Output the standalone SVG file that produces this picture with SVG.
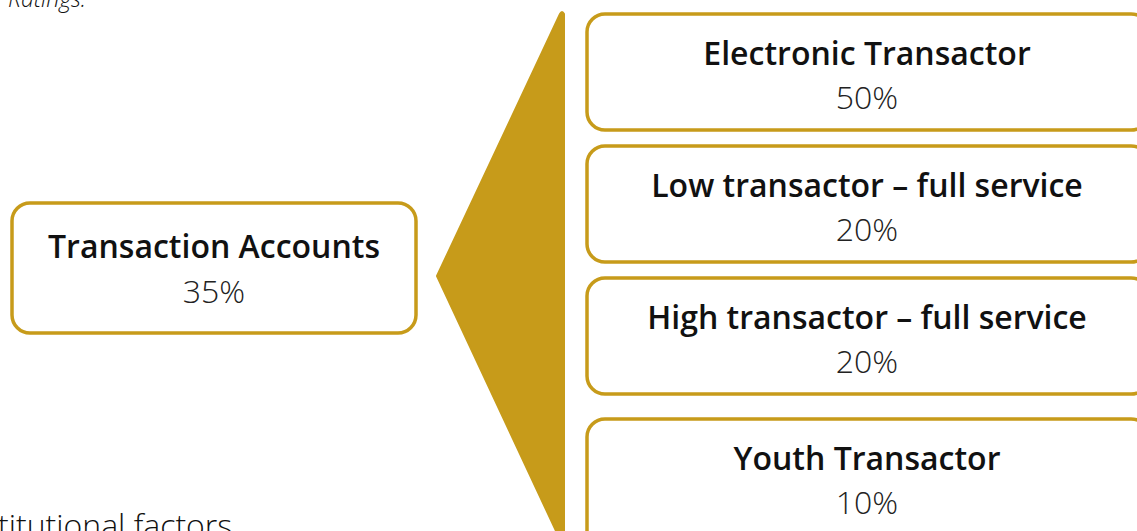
<svg xmlns="http://www.w3.org/2000/svg" width="1137" height="531" viewBox="0 0 1137 531">
  <style>
    .box { fill: #ffffff; stroke: #C79B1A; stroke-width: 3.5; }
    .title { font-family: "Open Sans", "Liberation Sans", sans-serif; font-weight: 600; font-size: 32px; fill: #111111; text-anchor: middle; }
    .pct { font-family: "Open Sans", "Liberation Sans", sans-serif; font-weight: 300; font-size: 32px; fill: #222222; text-anchor: middle; }
    .note { font-family: "Open Sans", "Liberation Sans", sans-serif; font-weight: 300; fill: #111111; }
  </style>

  <!-- surrounding page text -->
  <text class="note" x="8" y="7" font-size="23" font-style="italic">Ratings.</text>
  <text class="note" x="-2" y="537" font-size="32" font-weight="400">titutional factors</text>

  <!-- fan connector from the parent to its four segments -->
  <g id="connectors">
    <path d="M437,276 L560,14 Q562,10 564,14 L564,548 Z" fill="#C79B1A" stroke="#C79B1A" stroke-width="2" stroke-linejoin="round"/>
  </g>

  <g id="node-transaction-accounts">
    <rect class="box" x="12" y="203" width="404" height="130" rx="18"/>
    <text class="title" x="214" y="258">Transaction Accounts</text>
    <text class="pct" x="214" y="303">35%</text>
  </g>

  <g id="node-electronic">
    <rect class="box" x="587" y="14" width="562" height="116" rx="18"/>
    <text class="title" x="867" y="65">Electronic Transactor</text>
    <text class="pct" x="867" y="109">50%</text>
  </g>

  <g id="node-low">
    <rect class="box" x="587" y="146" width="562" height="116" rx="18"/>
    <text class="title" x="867" y="197">Low transactor – full service</text>
    <text class="pct" x="867" y="241">20%</text>
  </g>

  <g id="node-high">
    <rect class="box" x="587" y="278" width="562" height="116" rx="18"/>
    <text class="title" x="867" y="329">High transactor – full service</text>
    <text class="pct" x="867" y="373">20%</text>
  </g>

  <g id="node-youth">
    <rect class="box" x="587" y="419" width="562" height="130" rx="18"/>
    <text class="title" x="867" y="470">Youth Transactor</text>
    <text class="pct" x="867" y="514">10%</text>
  </g>
</svg>
